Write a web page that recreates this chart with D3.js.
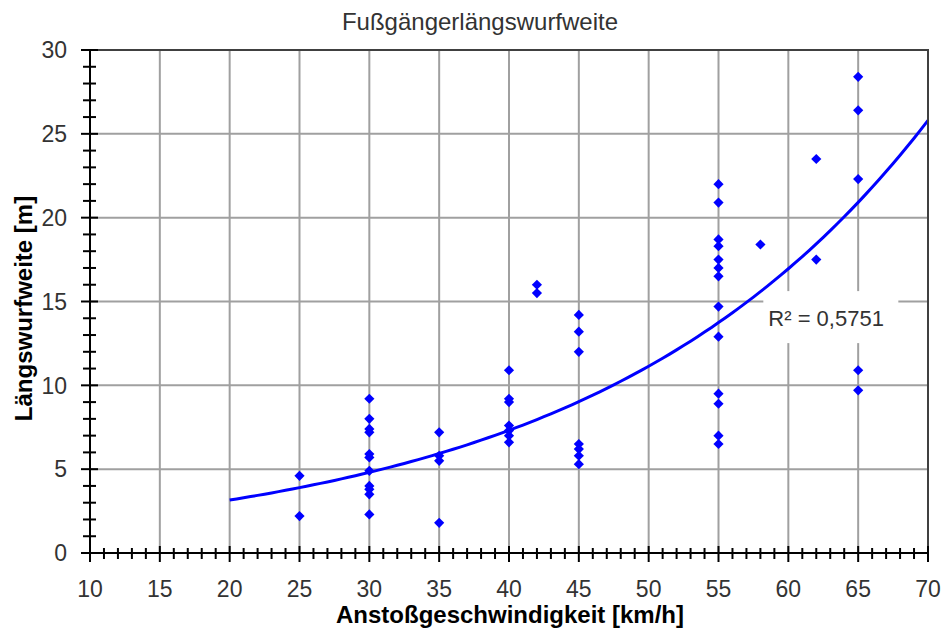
<!DOCTYPE html>
<html>
<head>
<meta charset="utf-8">
<script src="https://cdn.jsdelivr.net/npm/d3@7"></script>
<style>
  body { margin: 0; background: #fff; }
  text { font-family: "Liberation Sans", Arial, sans-serif; }
</style>
</head>
<body>
<svg id="canvas"></svg>
<script>
// chart data
const speeds = [25, 30, 35, 40, 42, 45, 55, 58, 62, 65];
const throwDistances = [
  [4.6, 2.2],
  [9.2, 8.0, 7.4, 7.2, 5.9, 5.7, 4.9, 4.0, 3.8, 3.5, 2.3],
  [7.2, 5.8, 5.5, 1.8],
  [10.9, 9.2, 9.0, 7.6, 7.3, 7.0, 6.6],
  [16.0, 15.5],
  [14.2, 13.2, 12.0, 6.5, 6.2, 5.8, 5.3],
  [22.0, 20.9, 18.7, 18.3, 17.5, 17.0, 16.5, 14.7, 12.9, 9.5, 8.9, 7.0, 6.5],
  [18.4],
  [23.5, 17.5],
  [28.4, 26.4, 22.3, 10.9, 9.7],
];
const xTicks = [10, 15, 20, 25, 30, 35, 40, 45, 50, 55, 60, 65, 70];
const yTicks = [0, 5, 10, 15, 20, 25, 30];
const rSquaredLabel = "R\u00b2 = 0,5751";

// exponential trend y = a * e^(b * x)
const trendA = 1.364;
const trendB = 0.042;
const trendRange = [20, 70];

// flat list of points
const points = [];
speeds.forEach((s, i) => {
  throwDistances[i].forEach((d) => points.push({ x: s, y: d }));
});

// canvas variables
const width = 944;
const height = 631;
const plotLeft = 90;
const plotRight = 928;
const plotTop = 50;
const plotBottom = 553;
const gridColor = "#a0a0a0";
const textColor = "#333";
const blue = "#0000ff";

const svg = d3.select("#canvas").attr("width", width).attr("height", height);

// scales
const xScale = d3.scaleLinear().domain([10, 70]).range([plotLeft, plotRight]);
const yScale = d3.scaleLinear().domain([0, 30]).range([plotBottom, plotTop]);

// grid lines
svg
  .append("g")
  .selectAll("line")
  .data(xTicks.slice(1, -1))
  .enter()
  .append("line")
  .attr("x1", (d) => xScale(d))
  .attr("x2", (d) => xScale(d))
  .attr("y1", plotTop)
  .attr("y2", plotBottom)
  .attr("stroke", gridColor)
  .attr("stroke-width", 2);

svg
  .append("g")
  .selectAll("line")
  .data(yTicks.slice(1, -1))
  .enter()
  .append("line")
  .attr("x1", plotLeft)
  .attr("x2", plotRight)
  .attr("y1", (d) => yScale(d))
  .attr("y2", (d) => yScale(d))
  .attr("stroke", gridColor)
  .attr("stroke-width", 2);

// trend line samples
const trend = d3
  .range(trendRange[0], trendRange[1] + 0.001, 0.5)
  .map((x) => ({ x: x, y: trendA * Math.exp(trendB * x) }));

// r squared label box
const labelX = xScale(60);
const labelY = yScale(13.95);
const labelG = svg.append("g");
labelG
  .append("rect")
  .attr("x", labelX - 25)
  .attr("y", labelY - 28)
  .attr("width", 135)
  .attr("height", 52)
  .attr("fill", "#fff");

svg
  .append("path")
  .datum(trend)
  .attr("fill", "none")
  .attr("stroke", blue)
  .attr("stroke-width", 3)
  .attr(
    "d",
    d3
      .line()
      .x((d) => xScale(d.x))
      .y((d) => yScale(d.y))
  );

labelG
  .append("text")
  .attr("x", labelX - 20)
  .attr("y", labelY + 7)
  .style("font-size", "22px")
  .style("fill", textColor)
  .text(rSquaredLabel);

// plot border top / right
svg
  .append("path")
  .attr("d", `M${plotLeft - 8},${plotTop}H${plotRight}V${plotBottom}`)
  .attr("fill", "none")
  .attr("stroke", "#404040")
  .attr("stroke-width", 2);

// x-axis
const xMinor = d3.range(10, 71, 1);
const xAxisG = svg.append("g");
xAxisG
  .append("line")
  .attr("x1", plotLeft)
  .attr("x2", plotRight)
  .attr("y1", plotBottom)
  .attr("y2", plotBottom)
  .attr("stroke", "#000")
  .attr("stroke-width", 2);
xAxisG
  .selectAll(".tick")
  .data(xMinor)
  .enter()
  .append("line")
  .attr("x1", (d) => xScale(d))
  .attr("x2", (d) => xScale(d))
  .attr("y1", (d) => plotBottom - (d % 5 === 0 ? 7 : 5))
  .attr("y2", (d) => plotBottom + (d % 5 === 0 ? 9 : 6))
  .attr("stroke", "#000")
  .attr("stroke-width", 2);
xAxisG
  .selectAll(".label")
  .data(xTicks)
  .enter()
  .append("text")
  .attr("x", (d) => xScale(d))
  .attr("y", 597)
  .style("text-anchor", "middle")
  .style("font-size", "23px")
  .style("fill", textColor)
  .text((d) => d);

// y-axis
const yMinor = d3.range(0, 31, 1);
const yAxisG = svg.append("g");
yAxisG
  .append("line")
  .attr("x1", plotLeft)
  .attr("x2", plotLeft)
  .attr("y1", plotTop)
  .attr("y2", plotBottom)
  .attr("stroke", "#000")
  .attr("stroke-width", 2);
yAxisG
  .selectAll(".tick")
  .data(yMinor)
  .enter()
  .append("line")
  .attr("x1", (d) => plotLeft - (d % 5 === 0 ? 9 : 7))
  .attr("x2", (d) => plotLeft + (d % 5 === 0 ? 8 : 6))
  .attr("y1", (d) => yScale(d))
  .attr("y2", (d) => yScale(d))
  .attr("stroke", "#000")
  .attr("stroke-width", 2);
yAxisG
  .selectAll(".label")
  .data(yTicks)
  .enter()
  .append("text")
  .attr("x", 67)
  .attr("y", (d) => yScale(d))
  .attr("dy", "0.36em")
  .style("text-anchor", "end")
  .style("font-size", "23px")
  .style("fill", textColor)
  .text((d) => d);

// data points (diamonds)
svg
  .append("g")
  .selectAll("path")
  .data(points)
  .enter()
  .append("path")
  .attr("d", d3.symbol(d3.symbolSquare, 52))
  .attr("transform", (d) => `translate(${xScale(d.x)},${yScale(d.y)}) rotate(45)`)
  .attr("fill", blue);

// title
svg
  .append("text")
  .attr("x", 480)
  .attr("y", 30)
  .style("text-anchor", "middle")
  .style("font-size", "24px")
  .style("fill", textColor)
  .text("Fußgängerlängswurfweite");

// x-label
svg
  .append("text")
  .attr("x", 510)
  .attr("y", 623)
  .style("text-anchor", "middle")
  .style("font-size", "24px")
  .style("font-weight", "bold")
  .style("fill", "#000")
  .text("Anstoßgeschwindigkeit [km/h]");

// y-label
svg
  .append("text")
  .attr("transform", `translate(32, ${(plotTop + plotBottom) / 2 + 7}) rotate(-90)`)
  .style("text-anchor", "middle")
  .style("font-size", "24px")
  .style("font-weight", "bold")
  .style("fill", "#000")
  .text("Längswurfweite [m]");
</script>
</body>
</html>
